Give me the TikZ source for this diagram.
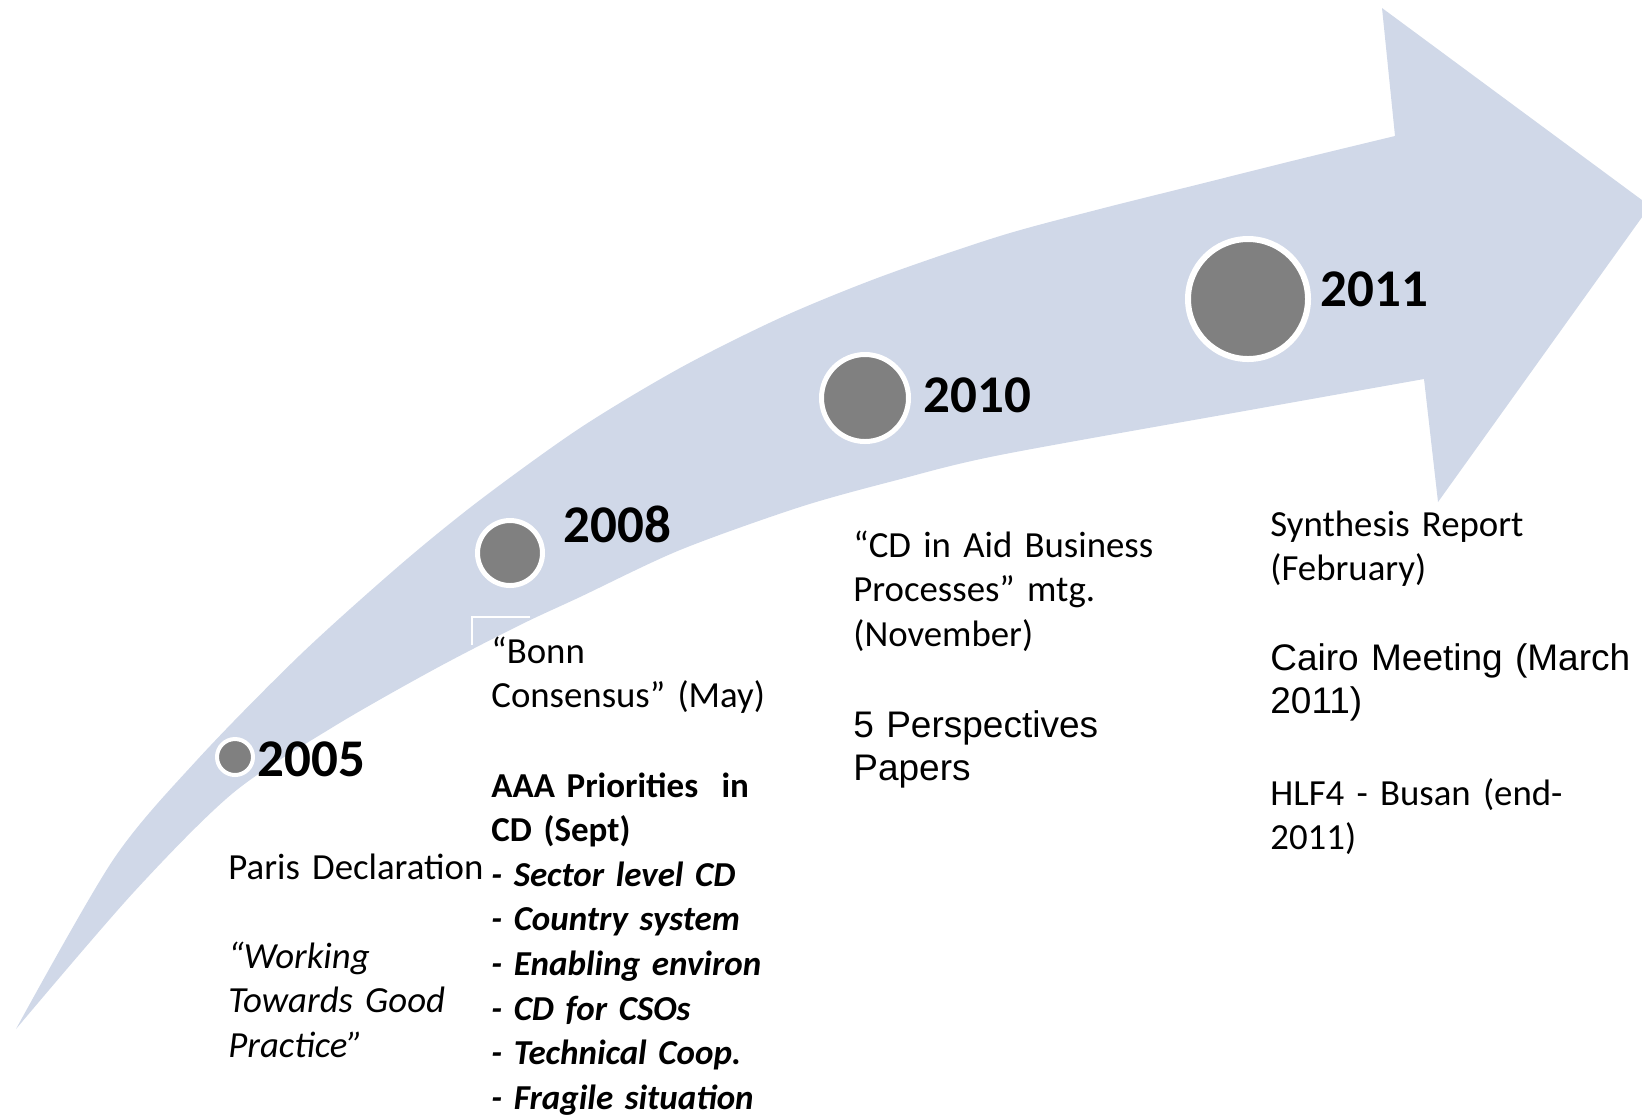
\documentclass[tikz,border=0pt]{standalone}
\usepackage{fontspec}
\setmainfont{Carlito}
\newfontfamily\arialfont{Liberation Sans}
\usetikzlibrary{positioning}

\definecolor{bandblue}{RGB}{208,216,232}
\definecolor{dotgray}{RGB}{128,128,128}

\begin{document}
\begin{tikzpicture}[x=0.5pt,y=-0.5pt]

	\tikzstyle arrow band=[fill=bandblue];
	\tikzstyle year dot=[circle, fill=dotgray, draw=white, inner sep=0pt];
	\tikzstyle year label=[anchor=base west, inner sep=0pt, font=\bfseries\fontsize{26.5}{30}\selectfont];
	\tikzstyle event text=[anchor=base west, inner sep=0pt, align=left, text width=220pt, font=\fontsize{18.4}{22.3}\selectfont];
	\tikzstyle arial text=[event text, font=\arialfont\fontsize{18.5}{21.6}\selectfont];

	\useasboundingbox (0,0) rectangle (1642,1116);
	\clip (0,0) rectangle (1642,1116);

	% the rising arrow
	\fill[arrow band] plot[smooth, tension=0.5] coordinates {(16,1029) (113,860) (197,760) (300,655) (400,565) (480,500) (580,428) (680,368) (780,318) (880,277) (1000,236) (1100,209) (1200,184) (1300,159) (1395,136)}
		-- (1382,8) -- (1650,206) -- (1438,502) -- (1424,379)
		-- plot[smooth, tension=0.5] coordinates {(1424,379) (1250,410) (1000,455) (897,480) (800,507) (680,550) (580,597) (520,625) (433,670) (333,727) (233,793) (133,893) (16,1029)} -- cycle;

	\draw[white, line width=1pt] (472,645) -- (472,617) -- (530,617);

	% milestones
	\node[year dot, minimum size=18pt, line width=2pt] (c2005) at (235,757) {};
	\node[year dot, minimum size=32.5pt, line width=2.5pt] (c2008) at (510,553) {};
	\node[year dot, minimum size=43.5pt, line width=2.5pt] (c2010) at (865,398) {};
	\node[year dot, minimum size=60pt, line width=3pt] (c2011) at (1248,299) {};

	\node[year label] (y2005) at (257,776) {2005};
	\node[year label] (y2008) at (563,542) {2008};
	\node[year label] (y2010) at (923,412) {2010};
	\node[year label] (y2011) at (1320,306) {2011};

	% 2005
	\node[event text] (paris) at (228,879) {Paris Declaration};
	\node[event text, font=\itshape\fontsize{18.4}{22.3}\selectfont] (working) at (228,968) {“Working\\Towards Good\\Practice”};

	% 2008
	\node[event text] (bonn) at (491,663) {“Bonn\\Consensus” (May)};
	\node[event text, font=\bfseries\fontsize{17.5}{22.3}\selectfont] (aaa) at (491,797) {AAA Priorities \ in\\CD (Sept)\\
		\textit{- Sector level CD}\\\textit{- Country system}\\\textit{- Enabling environ}\\
		\textit{- CD for CSOs}\\\textit{- Technical Coop.}\\\textit{- Fragile situation}};

	% 2010
	\node[event text] (cdaid) at (853,557) {“CD in Aid Business\\Processes” mtg.\\(November)};
	\node[arial text] (persp) at (853,737) {5 Perspectives\\Papers};

	% 2011
	\node[event text] (synth) at (1270,536) {Synthesis Report\\(February)};
	\node[arial text] (cairo) at (1270,670) {Cairo Meeting (March\\2011)};
	\node[event text] (hlf) at (1270,805) {HLF4 - Busan (end-\\2011)};

\end{tikzpicture}
\end{document}
